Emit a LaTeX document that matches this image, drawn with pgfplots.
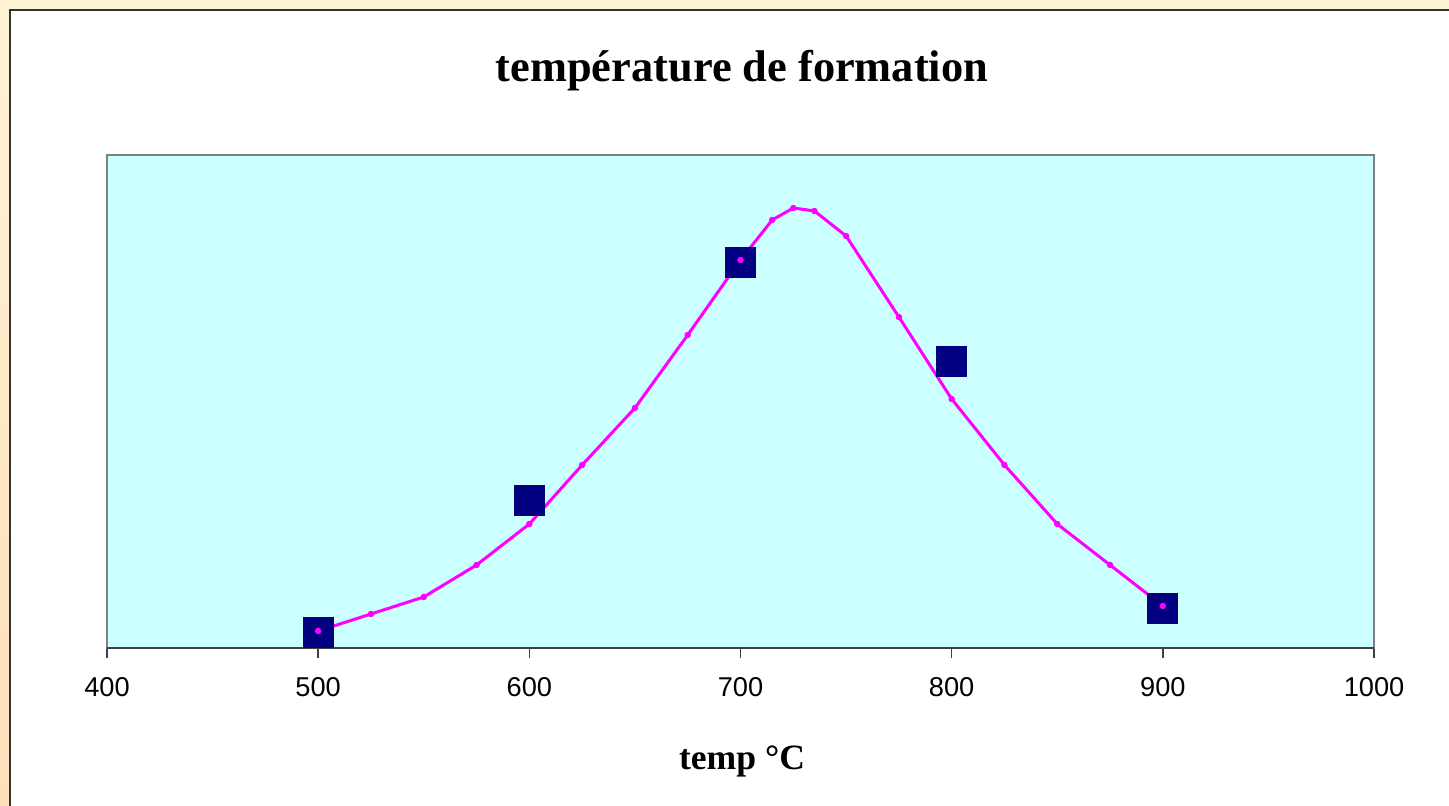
\documentclass[border=0pt]{standalone}
\usepackage{pgfplots}
\pgfplotsset{compat=1.18}
\usepackage{fontspec}
\setmainfont{Liberation Serif}
\newfontfamily\arial{Liberation Sans}
\definecolor{cyanbg}{HTML}{CCFFFF}
\definecolor{navysq}{HTML}{000080}
\definecolor{magline}{HTML}{FF00FF}
\definecolor{beigeT}{HTML}{FFF3D6}
\definecolor{beigeB}{HTML}{FFDFBA}
\begin{document}
\begin{tikzpicture}
\useasboundingbox (-53.5pt,-79pt) rectangle (671pt,324pt);
\shade[top color=beigeT, bottom color=beigeB] (-53.5pt,-79pt) rectangle (671pt,324pt);
\fill[white] (-48.5pt,-82pt) rectangle (674pt,319pt);
\draw[black!80, line width=1pt] (-48.5pt,-82pt) -- (-48.5pt,319pt) -- (674pt,319pt);
\begin{axis}[
  at={(0pt,0pt)}, anchor=south west,
  scale only axis, width=633.5pt, height=246.5pt,
  xmin=400, xmax=1000, ymin=0, ymax=493,
  xtick={400,500,...,1000}, ytick=\empty,
  xtick pos=bottom, tick align=outside, major tick length=5pt,
  axis background/.style={fill=cyanbg},
  axis line style={black!50, line width=1pt},
  tick style={black!75, line width=0.75pt},
  clip=false,
  xticklabel style={font=\arial\fontsize{13.6}{16}\selectfont, anchor=center, yshift=-14.75pt},
  /pgf/number format/assume math mode=true,
  /pgf/number format/1000 sep={},
]
\draw[black!75, line width=1pt] (rel axis cs:0,0) -- (rel axis cs:1,0);
\addplot[magline, line width=1.5pt, mark=none] coordinates {
(500,17) (525,34) (550,51) (575,83) (600,124) (625,183) (650,240) (675,313)
(700,388) (715,428) (725,440) (735,437) (750,412) (775,331) (800,249)
(825,183) (850,124) (875,83) (900,42)
};
\addplot[only marks, mark=square*, mark size=7.5pt, mark options={fill=navysq, draw=navysq}] coordinates {
(500,16) (600,148) (700,385.5) (800,287) (900,40)
};
\addplot[only marks, mark=*, mark size=1.4pt, mark options={fill=magline, draw=magline}] coordinates {
(500,17) (525,34) (550,51) (575,83) (600,124) (625,183) (650,240) (675,313)
(700,388) (715,428) (725,440) (735,437) (750,412) (775,331) (800,249)
(825,183) (850,124) (875,83) (900,42)
};
\end{axis}
\node at (317.5pt,288.5pt) {\fontsize{22.2}{26}\selectfont\bfseries température de formation};
\node at (317.5pt,-56.75pt) {\fontsize{17.8}{21}\selectfont\bfseries temp °C};
\end{tikzpicture}
\end{document}
